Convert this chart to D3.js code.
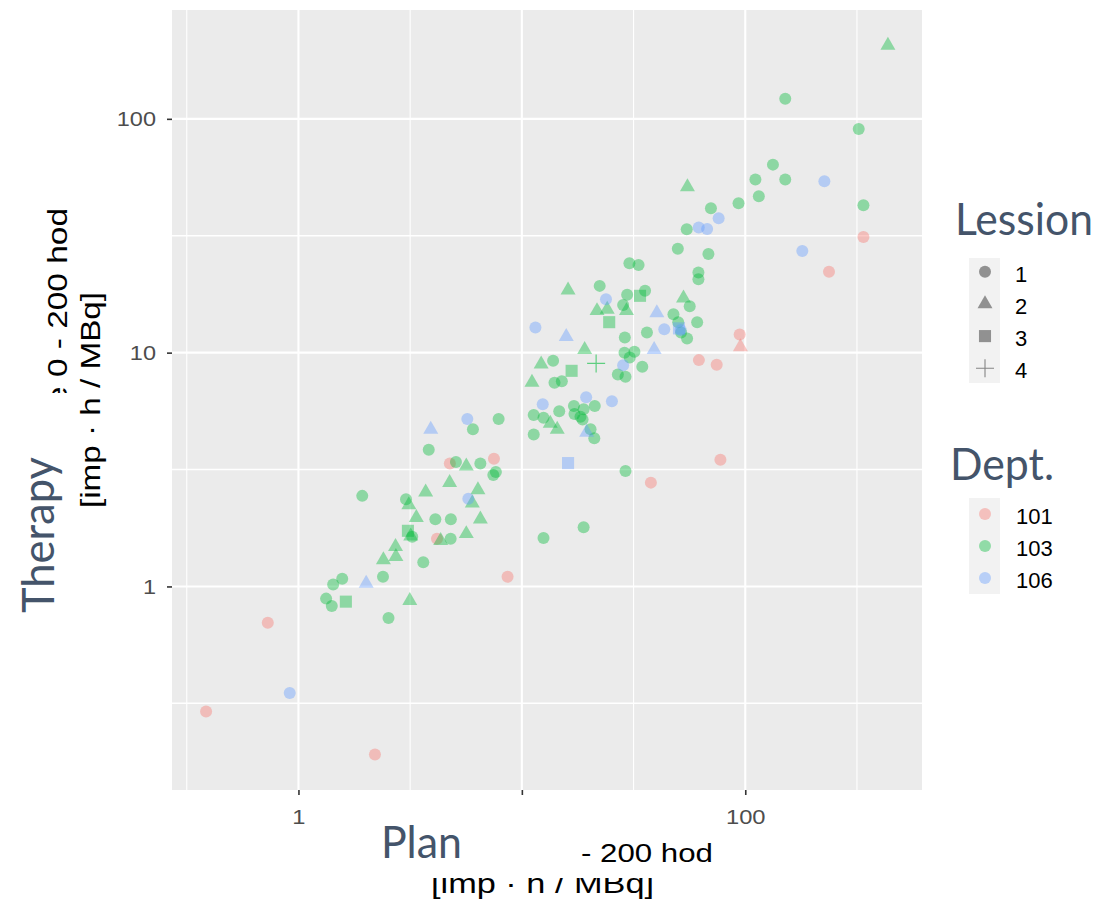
<!DOCTYPE html>
<html>
<head>
<meta charset="utf-8">
<script src="https://cdn.jsdelivr.net/npm/d3@7"></script>
<style>
  body { margin: 0; background: #ffffff; }
  svg { display: block; }
</style>
</head>
<body>
<svg id="chart" width="1100" height="907"></svg>
<script>
// ---- data: plan vs therapy (imp·h/MBq), grouped by department and lesion ----
// Dept. 101
const plan101L1    = [0.386, 0.729, 2.20, 4.17, 4.76, 7.50, 8.63, 37.8, 62.0, 74.5, 77.4, 94.4, 237, 338];
const therapy101L1 = [0.292, 0.700, 0.191, 1.60, 3.36, 3.52, 1.10, 2.78, 9.29, 8.87, 3.48, 11.97, 22.2, 31.2];
const plan101L2    = [95.1];
const therapy101L2 = [10.59];

// Dept. 103
const plan103L1    = [1.33, 1.41, 1.43, 1.57, 2.39, 2.53, 1.93, 3.03, 3.23, 3.62,
                      3.83, 4.10, 4.81, 4.80, 5.07, 6.04, 6.52, 7.87, 7.65, 7.45,
                      11.3, 12.5, 11.3, 14.7, 17.1, 17.2, 18.9, 18.3, 18.7, 21.2,
                      20.3, 21.1, 13.8, 14.0, 15.1, 12.5, 18.9, 29.1, 26.9, 29.1,
                      34.6, 28.8, 31.9, 30.4, 28.9, 36.3, 28.4, 29.6, 35.6, 22.3,
                      33.3, 30.3, 47.7, 56.4, 60.9, 50.1, 54.9, 51.6, 49.9, 68.4,
                      54.7, 61.7, 61.7, 70.2, 93.3, 115, 111, 151, 133, 151,
                      322, 338];
const therapy103L1 = [0.887, 0.825, 1.02, 1.08, 1.10, 0.733, 2.44, 2.36, 1.63, 1.27,
                      3.84, 1.94, 1.94, 1.60, 3.41, 4.70, 3.36, 5.20, 3.09, 3.00,
                      5.41, 5.27, 4.47, 5.62, 5.91, 5.46, 5.72, 5.32, 5.18, 5.91,
                      4.70, 4.30, 9.23, 7.43, 7.55, 1.61, 1.79, 3.12, 8.07, 7.88,
                      8.70, 9.98, 10.1, 9.54, 11.6, 12.2, 16.0, 17.7, 18.4, 19.3,
                      23.7, 24.1, 14.6, 15.8, 13.5, 13.5, 11.5, 12.2, 27.8, 26.4,
                      33.7, 22.0, 20.6, 41.5, 43.5, 46.7, 55.0, 55.0, 63.7, 122,
                      90.5, 42.7];
const plan103L2    = [2.40, 2.72, 2.73, 3.15, 3.12, 3.37, 3.18, 3.71, 4.33, 4.75,
                      5.64, 5.64, 6.00, 6.36, 6.52, 11.1, 12.2, 13.4, 14.4, 16.1,
                      19.1, 21.7, 24.1, 29.4, 52.9, 55.1, 435];
const therapy103L2 = [1.30, 1.48, 1.34, 0.870, 2.23, 1.97, 1.64, 2.53, 1.57, 2.78,
                      3.27, 1.68, 2.27, 2.59, 1.94, 7.46, 8.93, 4.98, 4.70, 18.5,
                      10.3, 15.1, 15.3, 15.1, 17.1, 51.1, 206];
const plan103L3    = [1.63, 3.09, 16.7, 24.6, 33.8];
const therapy103L3 = [0.861, 1.73, 8.36, 13.5, 17.5];
const plan103L4    = [21.5];
const therapy103L4 = [8.99];

// Dept. 106
const plan106L1    = [0.914, 5.70, 5.76, 11.5, 12.4, 19.4, 25.3, 23.8, 28.4, 43.4,
                      51.4, 61.9, 67.5, 76.0, 180, 226];
const therapy106L1 = [0.350, 5.20, 2.37, 12.8, 6.01, 6.44, 6.19, 16.9, 8.84, 12.6,
                      12.5, 34.3, 33.8, 37.6, 27.2, 54.1];
const plan106L2    = [2.01, 3.91, 15.8, 19.5, 39.1, 40.2];
const therapy106L2 = [1.03, 4.70, 11.7, 4.56, 10.3, 14.8];
const plan106L3    = [16.1, 50.5];
const therapy106L3 = [3.37, 12.7];

const lesionLevels = ["1", "2", "3", "4"];
const deptLevels   = ["101", "103", "106"];
const deptColors   = ["#F8766D", "#00BA38", "#619CFF"];
const xTicks = [1, 10, 100];
const xTickLabels = ["1", "", "100"];
const yTicks = [1, 10, 100];
const yTickLabels = ["1", "10", "100"];

const groups = [
  { dept: "101", lesion: "1", plan: plan101L1, therapy: therapy101L1 },
  { dept: "101", lesion: "2", plan: plan101L2, therapy: therapy101L2 },
  { dept: "103", lesion: "1", plan: plan103L1, therapy: therapy103L1 },
  { dept: "103", lesion: "2", plan: plan103L2, therapy: therapy103L2 },
  { dept: "103", lesion: "3", plan: plan103L3, therapy: therapy103L3 },
  { dept: "103", lesion: "4", plan: plan103L4, therapy: therapy103L4 },
  { dept: "106", lesion: "1", plan: plan106L1, therapy: therapy106L1 },
  { dept: "106", lesion: "2", plan: plan106L2, therapy: therapy106L2 },
  { dept: "106", lesion: "3", plan: plan106L3, therapy: therapy106L3 }
];
const rows = groups.flatMap(g => g.plan.map((p, i) => ({
  plan: p, therapy: g.therapy[i], dept: g.dept, lesion: g.lesion
})));

// ---- layout ----
const panel = { left: 172, right: 922, top: 10, bottom: 790 };
const svg = d3.select("#chart");
const plotFont = "'Liberation Sans', Arial, sans-serif";
const slideFont = "Lato, 'Open Sans', sans-serif";
const slideColor = "#44546A";

// log extent with 5% padding on each side (in log space)
function paddedLogDomain(vals) {
  const lo = Math.log10(d3.min(vals)), hi = Math.log10(d3.max(vals));
  const pad = (hi - lo) * 0.05;
  return [Math.pow(10, lo - pad), Math.pow(10, hi + pad)];
}

const x = d3.scaleLog()
  .domain(paddedLogDomain(rows.map(d => d.plan)))
  .range([panel.left, panel.right]);
const y = d3.scaleLog()
  .domain(paddedLogDomain(rows.map(d => d.therapy)))
  .range([panel.bottom, panel.top]);

const color = d3.scaleOrdinal().domain(deptLevels).range(deptColors);

// ---- panel background and grid ----
svg.append("rect")
  .attr("x", panel.left).attr("y", panel.top)
  .attr("width", panel.right - panel.left).attr("height", panel.bottom - panel.top)
  .attr("fill", "#EBEBEB");

const inDomain = (s, v) => v >= s.domain()[0] && v <= s.domain()[1];
const halfDecades = [-1.5, -0.5, 0.5, 1.5, 2.5, 3.5].map(e => Math.pow(10, e));

const grid = svg.append("g").attr("fill", "none").attr("stroke", "#FFFFFF");
grid.selectAll("line.xminor").data(halfDecades.filter(v => inDomain(x, v))).join("line")
  .attr("x1", d => x(d)).attr("x2", d => x(d))
  .attr("y1", panel.top).attr("y2", panel.bottom).attr("stroke-width", 1.1);
grid.selectAll("line.yminor").data(halfDecades.filter(v => inDomain(y, v))).join("line")
  .attr("y1", d => y(d)).attr("y2", d => y(d))
  .attr("x1", panel.left).attr("x2", panel.right).attr("stroke-width", 1.5);
grid.selectAll("line.xmajor").data(xTicks).join("line")
  .attr("x1", d => x(d)).attr("x2", d => x(d))
  .attr("y1", panel.top).attr("y2", panel.bottom).attr("stroke-width", 2.1);
grid.selectAll("line.ymajor").data(yTicks).join("line")
  .attr("y1", d => y(d)).attr("y2", d => y(d))
  .attr("x1", panel.left).attr("x2", panel.right).attr("stroke-width", 2.1);

// ---- points ----
const shapeSym = {
  "1": d3.symbol(d3.symbolCircle, Math.PI * 36)(),
  "2": d3.symbol(d3.symbolTriangle, 97)(),
  "3": d3.symbol(d3.symbolSquare, 146)()
};
const plusPath = "M-9,0H9M0,-9V9";

const pts = svg.append("g");
pts.selectAll("path.pt").data(rows).join("path")
  .attr("class", "pt")
  .attr("transform", d => `translate(${x(d.plan)},${y(d.therapy)})`)
  .attr("d", d => d.lesion === "4" ? plusPath : shapeSym[d.lesion])
  .attr("fill", d => d.lesion === "4" ? "none" : color(d.dept))
  .attr("fill-opacity", 0.4)
  .attr("stroke", d => d.lesion === "4" ? color(d.dept) : "none")
  .attr("stroke-opacity", 0.6)
  .attr("stroke-width", 1.2);

// ---- axes ----
const yAxis = svg.append("g")
  .attr("transform", `translate(${panel.left},0)`)
  .call(d3.axisLeft(y).tickValues(yTicks)
    .tickFormat((d, i) => yTickLabels[i]).tickSize(5).tickPadding(11));
yAxis.select(".domain").remove();
yAxis.selectAll(".tick line").attr("stroke", "#333333").attr("stroke-width", 1.6);
yAxis.selectAll(".tick text")
  .attr("fill", "#4D4D4D").attr("font-family", plotFont).attr("font-size", 21)
  .attr("x", 0)
  .attr("transform", "translate(-16,0) scale(1.12,1)");

const xAxis = svg.append("g")
  .attr("transform", `translate(0,${panel.bottom})`)
  .call(d3.axisBottom(x).tickValues(xTicks)
    .tickFormat((d, i) => xTickLabels[i]).tickSize(5).tickPadding(14));
xAxis.select(".domain").remove();
xAxis.selectAll(".tick line").attr("stroke", "#333333").attr("stroke-width", 1.6);
xAxis.selectAll(".tick text")
  .attr("fill", "#4D4D4D").attr("font-family", plotFont).attr("font-size", 21)
  .attr("transform", "scale(1.13,1)");

// ---- axis titles ----
const defs = svg.append("defs");
defs.append("clipPath").attr("id", "clipYTitle")
  .append("rect").attr("x", 0).attr("y", 0).attr("width", 200).attr("height", 393);
defs.append("clipPath").attr("id", "clipXTitle")
  .append("rect").attr("x", 0).attr("y", 878).attr("width", 1100).attr("height", 29);

// y title, original plot text
svg.append("g").attr("clip-path", "url(#clipYTitle)")
  .append("text")
  .attr("transform", "translate(66.7,208) rotate(-90)")
  .attr("text-anchor", "end")
  .attr("font-family", plotFont).attr("font-size", 28).attr("fill", "#000")
  .attr("textLength", 197).attr("lengthAdjust", "spacingAndGlyphs")
  .text("e 0 - 200 hod");
svg.append("text")
  .attr("transform", "translate(100,400) rotate(-90)")
  .attr("text-anchor", "middle")
  .attr("font-family", plotFont).attr("font-size", 28).attr("fill", "#000")
  .attr("textLength", 216).attr("lengthAdjust", "spacingAndGlyphs")
  .text("[imp · h / MBq]");

// x title, original plot text
svg.append("text")
  .attr("x", 581).attr("y", 862)
  .attr("font-family", plotFont).attr("font-size", 26).attr("fill", "#000")
  .attr("textLength", 132).attr("lengthAdjust", "spacingAndGlyphs")
  .text("- 200 hod");
svg.append("g").attr("clip-path", "url(#clipXTitle)")
  .append("text")
  .attr("x", 431).attr("y", 893)
  .attr("font-family", plotFont).attr("font-size", 27).attr("fill", "#000")
  .attr("textLength", 223).attr("lengthAdjust", "spacingAndGlyphs")
  .text("[imp · h / MBq]");

// slide labels
svg.append("text")
  .attr("transform", "translate(54,535) rotate(-90)")
  .attr("text-anchor", "middle")
  .attr("font-family", slideFont).attr("font-size", 44).attr("fill", slideColor)
  .attr("textLength", 156).attr("lengthAdjust", "spacingAndGlyphs")
  .text("Therapy");
svg.append("text")
  .attr("x", 381).attr("y", 858)
  .attr("font-family", slideFont).attr("font-size", 44).attr("fill", slideColor)
  .attr("textLength", 81).attr("lengthAdjust", "spacingAndGlyphs")
  .text("Plan");

// ---- legends ----
const legendKeyX = 985, legendLabelX = 1015;

svg.append("text")
  .attr("x", 955).attr("y", 235)
  .attr("font-family", slideFont).attr("font-size", 44).attr("fill", slideColor)
  .attr("textLength", 138).attr("lengthAdjust", "spacingAndGlyphs")
  .text("Lession");
const lesionKeyY = d3.scalePoint().domain(lesionLevels).range([271.7, 368.3]);
svg.append("rect").attr("x", 969).attr("y", 258).attr("width", 31).attr("height", 125)
  .attr("fill", "#F2F2F2");
const lesLeg = svg.append("g").selectAll("g").data(lesionLevels).join("g")
  .attr("transform", d => `translate(0,${lesionKeyY(d)})`);
lesLeg.append("path")
  .attr("transform", `translate(${legendKeyX},0)`)
  .attr("d", d => d === "4" ? plusPath : shapeSym[d])
  .attr("fill", d => d === "4" ? "none" : "#000")
  .attr("fill-opacity", 0.4)
  .attr("stroke", d => d === "4" ? "#000" : "none")
  .attr("stroke-opacity", 0.45).attr("stroke-width", 1.1);
lesLeg.append("text")
  .attr("x", legendLabelX).attr("y", 10)
  .attr("font-family", plotFont).attr("font-size", 22).attr("fill", "#000")
  .text(d => d);

svg.append("text")
  .attr("x", 950).attr("y", 480)
  .attr("font-family", slideFont).attr("font-size", 44).attr("fill", slideColor)
  .attr("textLength", 104).attr("lengthAdjust", "spacingAndGlyphs")
  .text("Dept.");
const deptKeyY = d3.scalePoint().domain(deptLevels).range([514, 578]);
svg.append("rect").attr("x", 969).attr("y", 498).attr("width", 31).attr("height", 96)
  .attr("fill", "#F2F2F2");
const depLeg = svg.append("g").selectAll("g").data(deptLevels).join("g")
  .attr("transform", d => `translate(0,${deptKeyY(d)})`);
depLeg.append("path")
  .attr("transform", `translate(${legendKeyX},0)`)
  .attr("d", shapeSym["1"])
  .attr("fill", d => color(d)).attr("fill-opacity", 0.4);
depLeg.append("text")
  .attr("x", legendLabelX + 1).attr("y", 10)
  .attr("font-family", plotFont).attr("font-size", 22).attr("fill", "#000")
  .text(d => d);
</script>
</body>
</html>
